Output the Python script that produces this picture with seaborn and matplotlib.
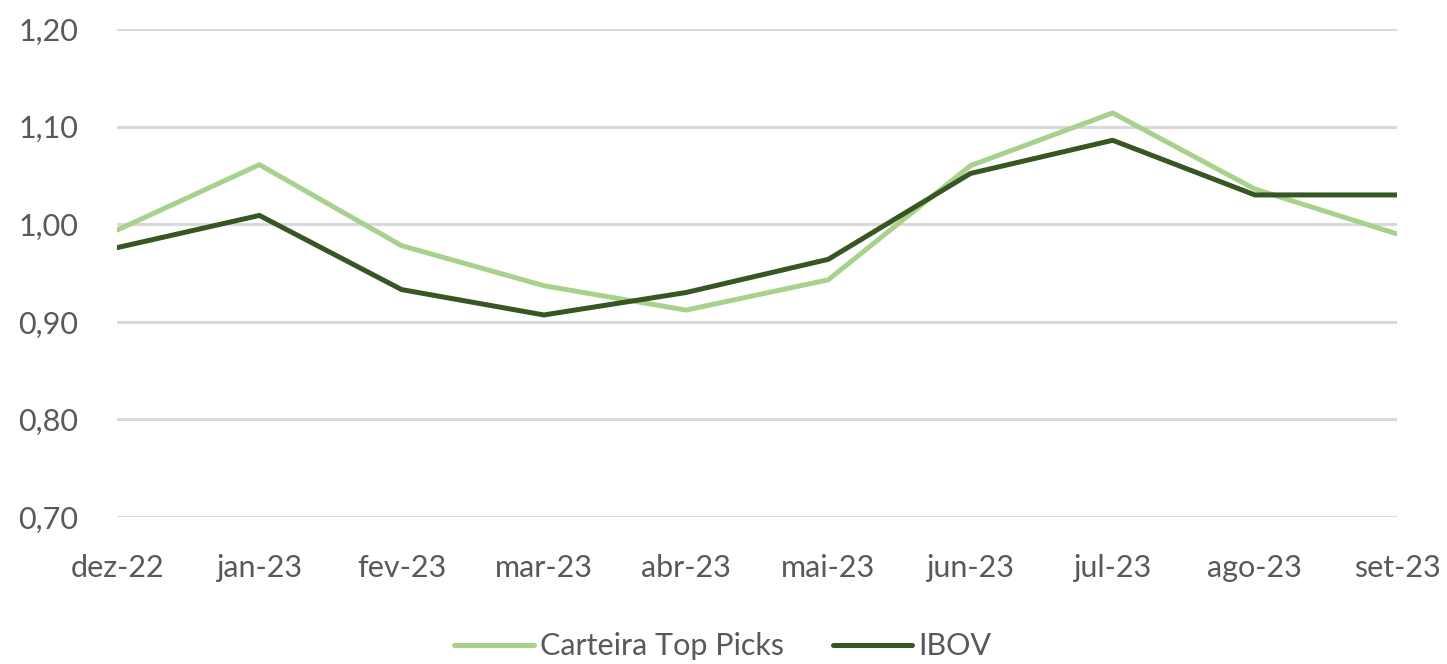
import matplotlib
matplotlib.use("Agg")
import matplotlib.pyplot as plt
import seaborn as sns
import pandas as pd
from matplotlib.ticker import FuncFormatter, FixedLocator

months = ["dez-22", "jan-23", "fev-23", "mar-23", "abr-23", "mai-23",
          "jun-23", "jul-23", "ago-23", "set-23"]
carteira = [0.994, 1.061, 0.978, 0.937, 0.912, 0.943, 1.060, 1.114, 1.036, 0.990]
ibov = [0.976, 1.009, 0.933, 0.907, 0.930, 0.964, 1.052, 1.086, 1.030, 1.030]
series_names = ["Carteira Top Picks", "IBOV"]
y_ticks = [0.70, 0.80, 0.90, 1.00, 1.10, 1.20]

df = pd.DataFrame({
    "idx": list(range(len(months))) * 2,
    "valor": carteira + ibov,
    "serie": [series_names[0]] * len(months) + [series_names[1]] * len(months),
})

sns.set_theme(style="white")
plt.rcParams["font.family"] = ["Lato", "DejaVu Sans"]

fig = plt.figure(figsize=(14.47, 6.64), dpi=100)
ax = fig.add_axes([0.081, 0.2214, 0.8845, 0.7349])

palette = {series_names[0]: "#a9d18e", series_names[1]: "#375623"}
sns.lineplot(data=df, x="idx", y="valor", hue="serie", palette=palette,
             linewidth=3.6, ax=ax, legend=True, solid_capstyle="round")

ax.set_xlim(0, len(months) - 1)
ax.set_ylim(0.70, 1.20)
ax.yaxis.set_major_locator(FixedLocator(y_ticks))
ax.yaxis.set_major_formatter(FuncFormatter(lambda v, p: f"{v:.2f}".replace(".", ",")))
ax.set_xticks(range(len(months)))
ax.set_xticklabels(months)
ax.grid(axis="y", color="#d9d9d9", linewidth=2.2)
ax.set_axisbelow(True)
for s in ax.spines.values():
    s.set_visible(False)
ax.tick_params(axis="both", length=0, labelsize=22, labelcolor="#595959")
ax.tick_params(axis="y", pad=28)
ax.tick_params(axis="x", pad=27)
ax.set_xlabel("")
ax.set_ylabel("")

leg = ax.legend(loc="upper center", bbox_to_anchor=(0.473, -0.199), ncol=2,
                frameon=False, fontsize=22, handlelength=2.6, handletextpad=0.2,
                columnspacing=1.6, labelcolor="#595959", borderaxespad=0.2)
for line in leg.get_lines():
    line.set_linewidth(3.6)

fig.savefig("out.png", dpi=100)
